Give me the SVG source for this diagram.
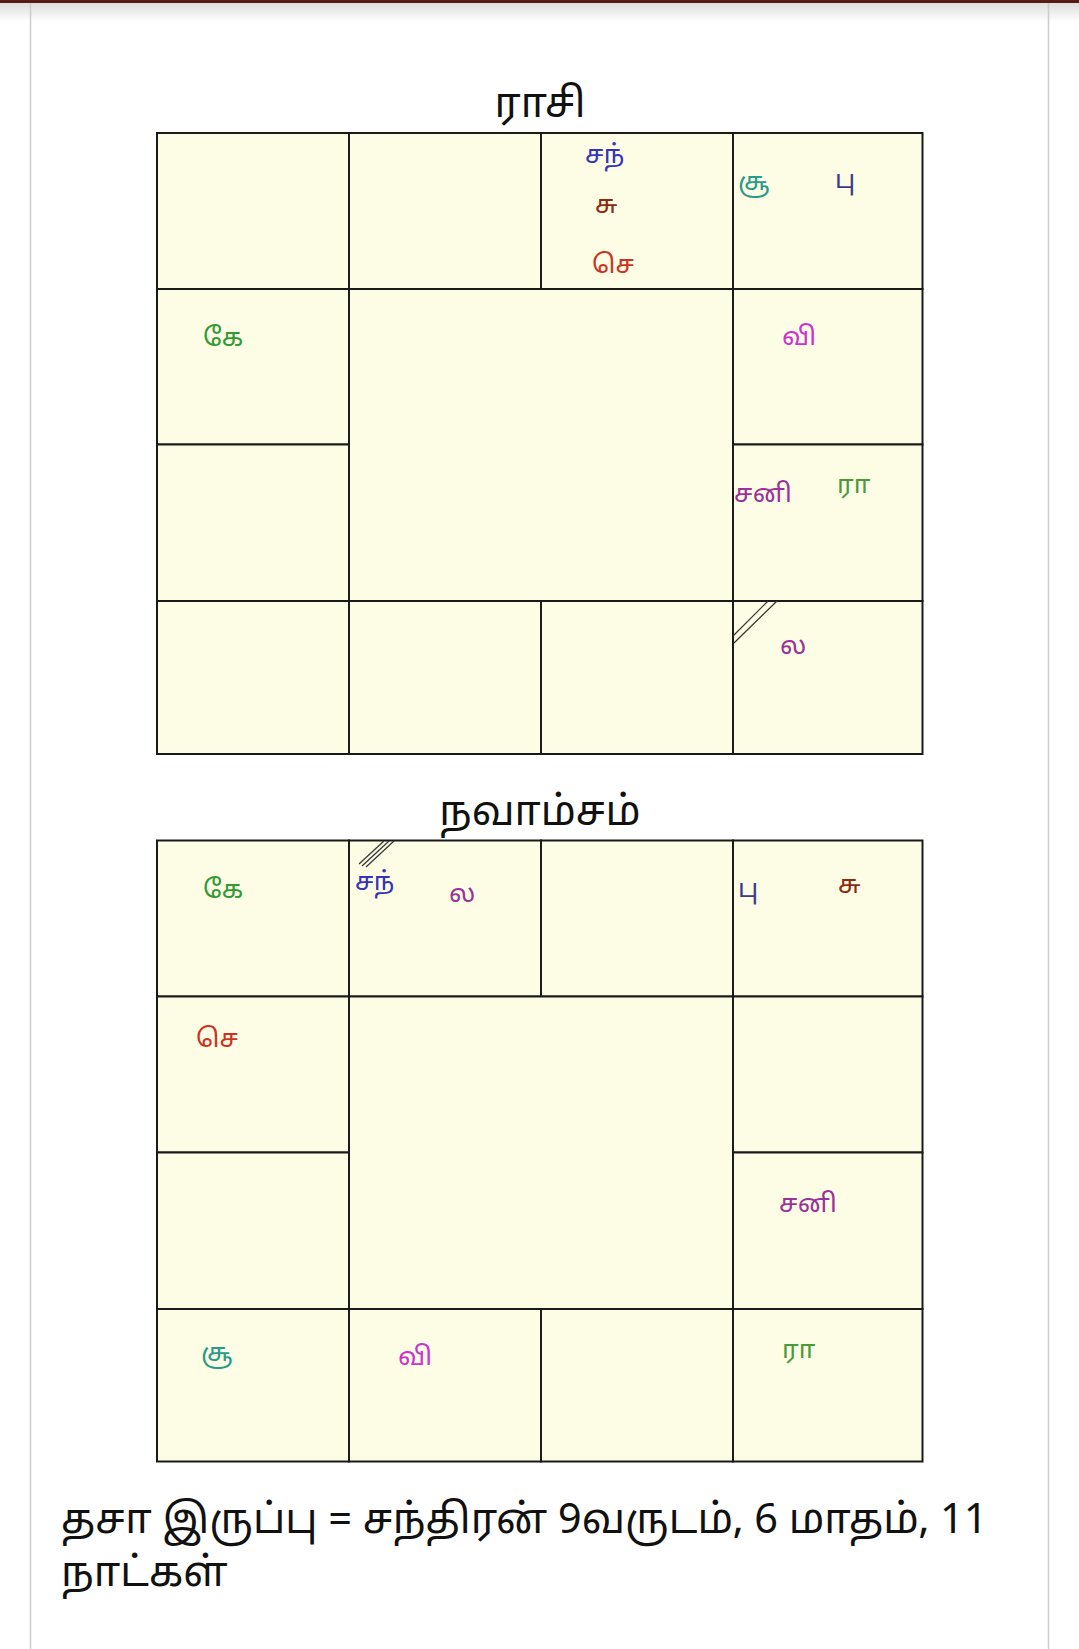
<svg xmlns="http://www.w3.org/2000/svg" width="1079" height="1649" viewBox="0 0 1079 1649">
<defs>
<linearGradient id="topShade" x1="0" y1="0" x2="0" y2="1">
<stop offset="0" stop-color="#d8d8d8"/>
<stop offset="1" stop-color="#ffffff"/>
</linearGradient>
</defs>
<style>
.cell{fill:#fdfde6;stroke:#1a1a1a;stroke-width:2}
.title{font-family:"Noto Sans Tamil","Noto Sans",sans-serif;font-size:41px;fill:#111;text-anchor:middle}
.pl{font-family:"Noto Sans Tamil","Noto Sans",sans-serif;font-size:26px}
.foot{font-family:"Noto Sans Tamil","Noto Sans",sans-serif;font-size:41.5px;fill:#111}
.dg{stroke:#333;stroke-width:1.2}
.blue{fill:#3333bb}.brown{fill:#8b2a10}.red{fill:#cc3322}.teal{fill:#2a9a8a}.slate{fill:#3a3a8a}
.mag{fill:#cc33cc}.green{fill:#339933}.purple{fill:#993399}.lgreen{fill:#4a9a3a}
</style>
<rect x="0" y="0" width="1079" height="1649" fill="#ffffff"/>
<rect x="0" y="0" width="1079" height="22" fill="url(#topShade)"/>
<rect x="0" y="0" width="1079" height="3" fill="#5a1a14"/>
<line x1="30.5" y1="3" x2="30.5" y2="1649" stroke="#cccccc" stroke-width="1.5"/>
<line x1="1048.5" y1="3" x2="1048.5" y2="1649" stroke="#cccccc" stroke-width="1.5"/>

<g id="rasi">
<text class="title" x="540" y="117">ராசி</text>
<g id="rasi-cells">
<rect class="cell" x="157" y="133" width="192" height="156"/>
<rect class="cell" x="349" y="133" width="192" height="156"/>
<rect class="cell" x="541" y="133" width="192" height="156"/>
<rect class="cell" x="733" y="133" width="189.5" height="156"/>
<rect class="cell" x="157" y="289" width="192" height="155.5"/>
<rect class="cell" x="733" y="289" width="189.5" height="155.5"/>
<rect class="cell" x="157" y="444.5" width="192" height="156.5"/>
<rect class="cell" x="733" y="444.5" width="189.5" height="156.5"/>
<rect class="cell" x="157" y="601" width="192" height="153"/>
<rect class="cell" x="349" y="601" width="192" height="153"/>
<rect class="cell" x="541" y="601" width="192" height="153"/>
<rect class="cell" x="733" y="601" width="189.5" height="153"/>
<rect class="cell" x="349" y="289" width="384" height="312"/>
</g>
<g id="rasi-planets">
<text class="pl blue" x="585" y="163">சந்</text>
<text class="pl brown" x="595" y="213">சு</text>
<text class="pl red" x="592" y="273">செ</text>
<text class="pl teal" x="738" y="190">சூ</text>
<text class="pl slate" x="835" y="188">பு</text>
<text class="pl green" x="203" y="346">கே</text>
<text class="pl mag" x="782" y="345">வி</text>
<text class="pl purple" x="734" y="502">சனி</text>
<text class="pl lgreen" x="837" y="493">ரா</text>
<text class="pl purple" x="780" y="654">ல</text>
</g>
<g id="rasi-lagna-mark">
<line class="dg" x1="733" y1="636" x2="768" y2="601"/>
<line class="dg" x1="734" y1="643" x2="777" y2="601"/>
</g>
</g>

<g id="navamsa">
<text class="title" x="540" y="825">நவாம்சம்</text>
<g id="navamsa-cells">
<rect class="cell" x="157" y="840.5" width="192" height="156"/>
<rect class="cell" x="349" y="840.5" width="192" height="156"/>
<rect class="cell" x="541" y="840.5" width="192" height="156"/>
<rect class="cell" x="733" y="840.5" width="189.5" height="156"/>
<rect class="cell" x="157" y="996.5" width="192" height="156"/>
<rect class="cell" x="733" y="996.5" width="189.5" height="156"/>
<rect class="cell" x="157" y="1152.5" width="192" height="156.5"/>
<rect class="cell" x="733" y="1152.5" width="189.5" height="156.5"/>
<rect class="cell" x="157" y="1309" width="192" height="152.5"/>
<rect class="cell" x="349" y="1309" width="192" height="152.5"/>
<rect class="cell" x="541" y="1309" width="192" height="152.5"/>
<rect class="cell" x="733" y="1309" width="189.5" height="152.5"/>
<rect class="cell" x="349" y="996.5" width="384" height="312.5"/>
</g>
<g id="navamsa-planets">
<text class="pl green" x="203" y="898">கே</text>
<text class="pl blue" x="355" y="890">சந்</text>
<text class="pl purple" x="449" y="902">ல</text>
<text class="pl slate" x="738" y="897">பு</text>
<text class="pl brown" x="838" y="893">சு</text>
<text class="pl red" x="196" y="1047">செ</text>
<text class="pl purple" x="779" y="1212">சனி</text>
<text class="pl teal" x="201" y="1361">சூ</text>
<text class="pl mag" x="398" y="1365">வி</text>
<text class="pl lgreen" x="782" y="1358">ரா</text>
</g>
<g id="navamsa-lagna-mark">
<line class="dg" x1="359" y1="864" x2="384" y2="841"/>
<line class="dg" x1="362" y1="866" x2="389" y2="841"/>
<line class="dg" x1="366" y1="867" x2="394" y2="841"/>
</g>
</g>

<g id="dasa">
<text class="foot" x="61" y="1533">தசா இருப்பு = சந்திரன் 9வருடம், 6 மாதம், 11</text>
<text class="foot" x="61" y="1586">நாட்கள்</text>
</g>
</svg>
